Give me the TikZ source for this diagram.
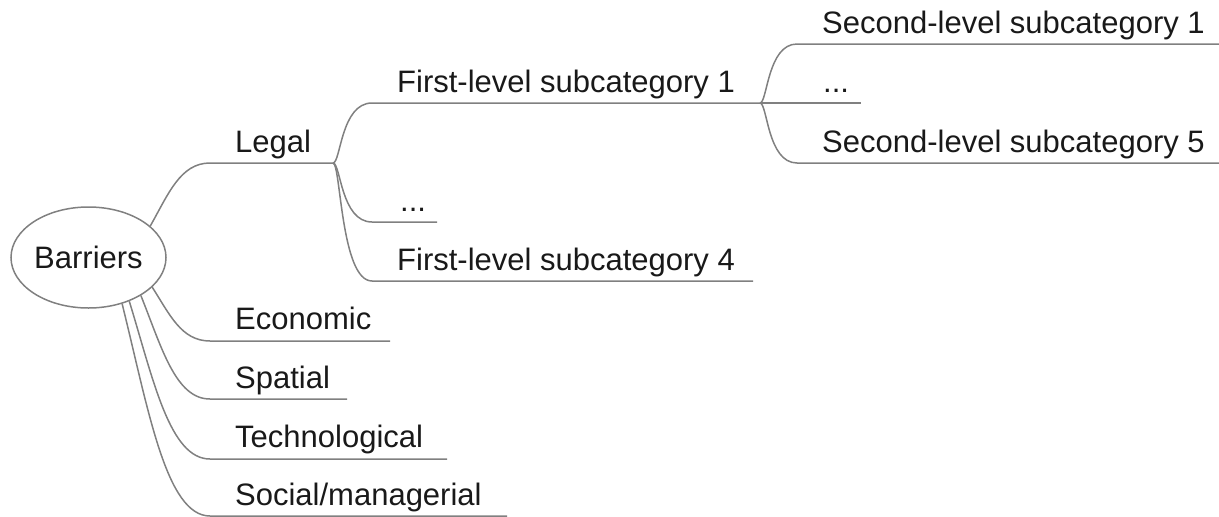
\documentclass[tikz,border=0pt]{standalone}
\usepackage{fontspec}
\setmainfont{Liberation Sans}
\usetikzlibrary{shapes.geometric,calc}
\definecolor{linegray}{RGB}{128,128,128}
\definecolor{txt}{RGB}{25,25,25}
\begin{document}
\begin{tikzpicture}[x=1pt,y=-1pt,
  conn/.style={draw=linegray,line width=1.5pt},
  lbl/.style={anchor=base west,inner sep=0pt,text=txt,font=\fontsize{31}{31}\selectfont},
  rootc/.style={to path={let \p1=(\tikztostart), \p2=(\tikztotarget) in
     .. controls ({\x1+0.3*(\x2-\x1)},{\y1+0.5*(\y2-\y1)}) and ({\x1+0.5*(\x2-\x1)},\y2) .. (\tikztotarget)}},
  bracec/.style={to path={let \p1=(\tikztostart), \p2=(\tikztotarget) in
     .. controls ({\x1+0.2*(\x2-\x1)},\y1) and ({\x1+0.2*(\x2-\x1)},\y2) .. (\tikztotarget)}}
]
\useasboundingbox (0,0) rectangle (1219,517);

% root
\node[ellipse,draw=linegray,line width=1.5pt,minimum width=155pt,minimum height=101pt,inner sep=0pt,
      text=txt,font=\fontsize{31}{31}\selectfont] (B) at (88.5,257.5) {Barriers};

% Legal
\coordinate (lgA) at (210,163); \coordinate (lgB) at (333,163);
\node[lbl] (lg) at (235,152) {Legal};
\draw[conn] (B.27.8) to[rootc] (lgA) -- (lgB);

% first level
\coordinate (f1A) at (372,103); \coordinate (f1B) at (760,103);
\node[lbl] (f1) at (397,92) {First-level subcategory 1};
\draw[conn] (lgB) to[bracec] (f1A) -- (f1B);

\coordinate (f2A) at (372,222); \coordinate (f2B) at (437,222);
\node[lbl] (f2) at (400,211) {...};
\draw[conn] (lgB) to[bracec] (f2A) -- (f2B);

\coordinate (f3A) at (372,281); \coordinate (f3B) at (753,281);
\node[lbl] (f3) at (397,270) {First-level subcategory 4};
\draw[conn] (lgB) to[bracec] (f3A) -- (f3B);

% second level
\coordinate (s1A) at (797,44); \coordinate (s1B) at (1219,44);
\node[lbl] (s1) at (822,33) {Second-level subcategory 1};
\draw[conn] (f1B) to[bracec] (s1A) -- (s1B);

\coordinate (s2B) at (861,103);
\node[lbl] (s2) at (823,92) {...};
\draw[conn] (f1B) -- (s2B);

\coordinate (s3A) at (797,163); \coordinate (s3B) at (1219,163);
\node[lbl] (s3) at (822,152) {Second-level subcategory 5};
\draw[conn] (f1B) to[bracec] (s3A) -- (s3B);

% other top-level branches
\coordinate (ecA) at (210,341); \coordinate (ecB) at (390,341);
\node[lbl] (ec) at (235,329) {Economic};
\draw[conn] (B.-25.3) to[rootc] (ecA) -- (ecB);

\coordinate (spA) at (210,399); \coordinate (spB) at (347,399);
\node[lbl] (sp) at (235,388) {Spatial};
\draw[conn] (B.-36.4) to[rootc] (spA) -- (spB);

\coordinate (teA) at (210,459); \coordinate (teB) at (447,459);
\node[lbl] (te) at (235,447) {Technological};
\draw[conn] (B.-47) to[rootc] (teA) -- (teB);

\coordinate (soA) at (210,516); \coordinate (soB) at (507,516);
\node[lbl] (so) at (235,505) {Social/managerial};
\draw[conn] (B.-54) to[rootc] (soA) -- (soB);
\end{tikzpicture}
\end{document}
